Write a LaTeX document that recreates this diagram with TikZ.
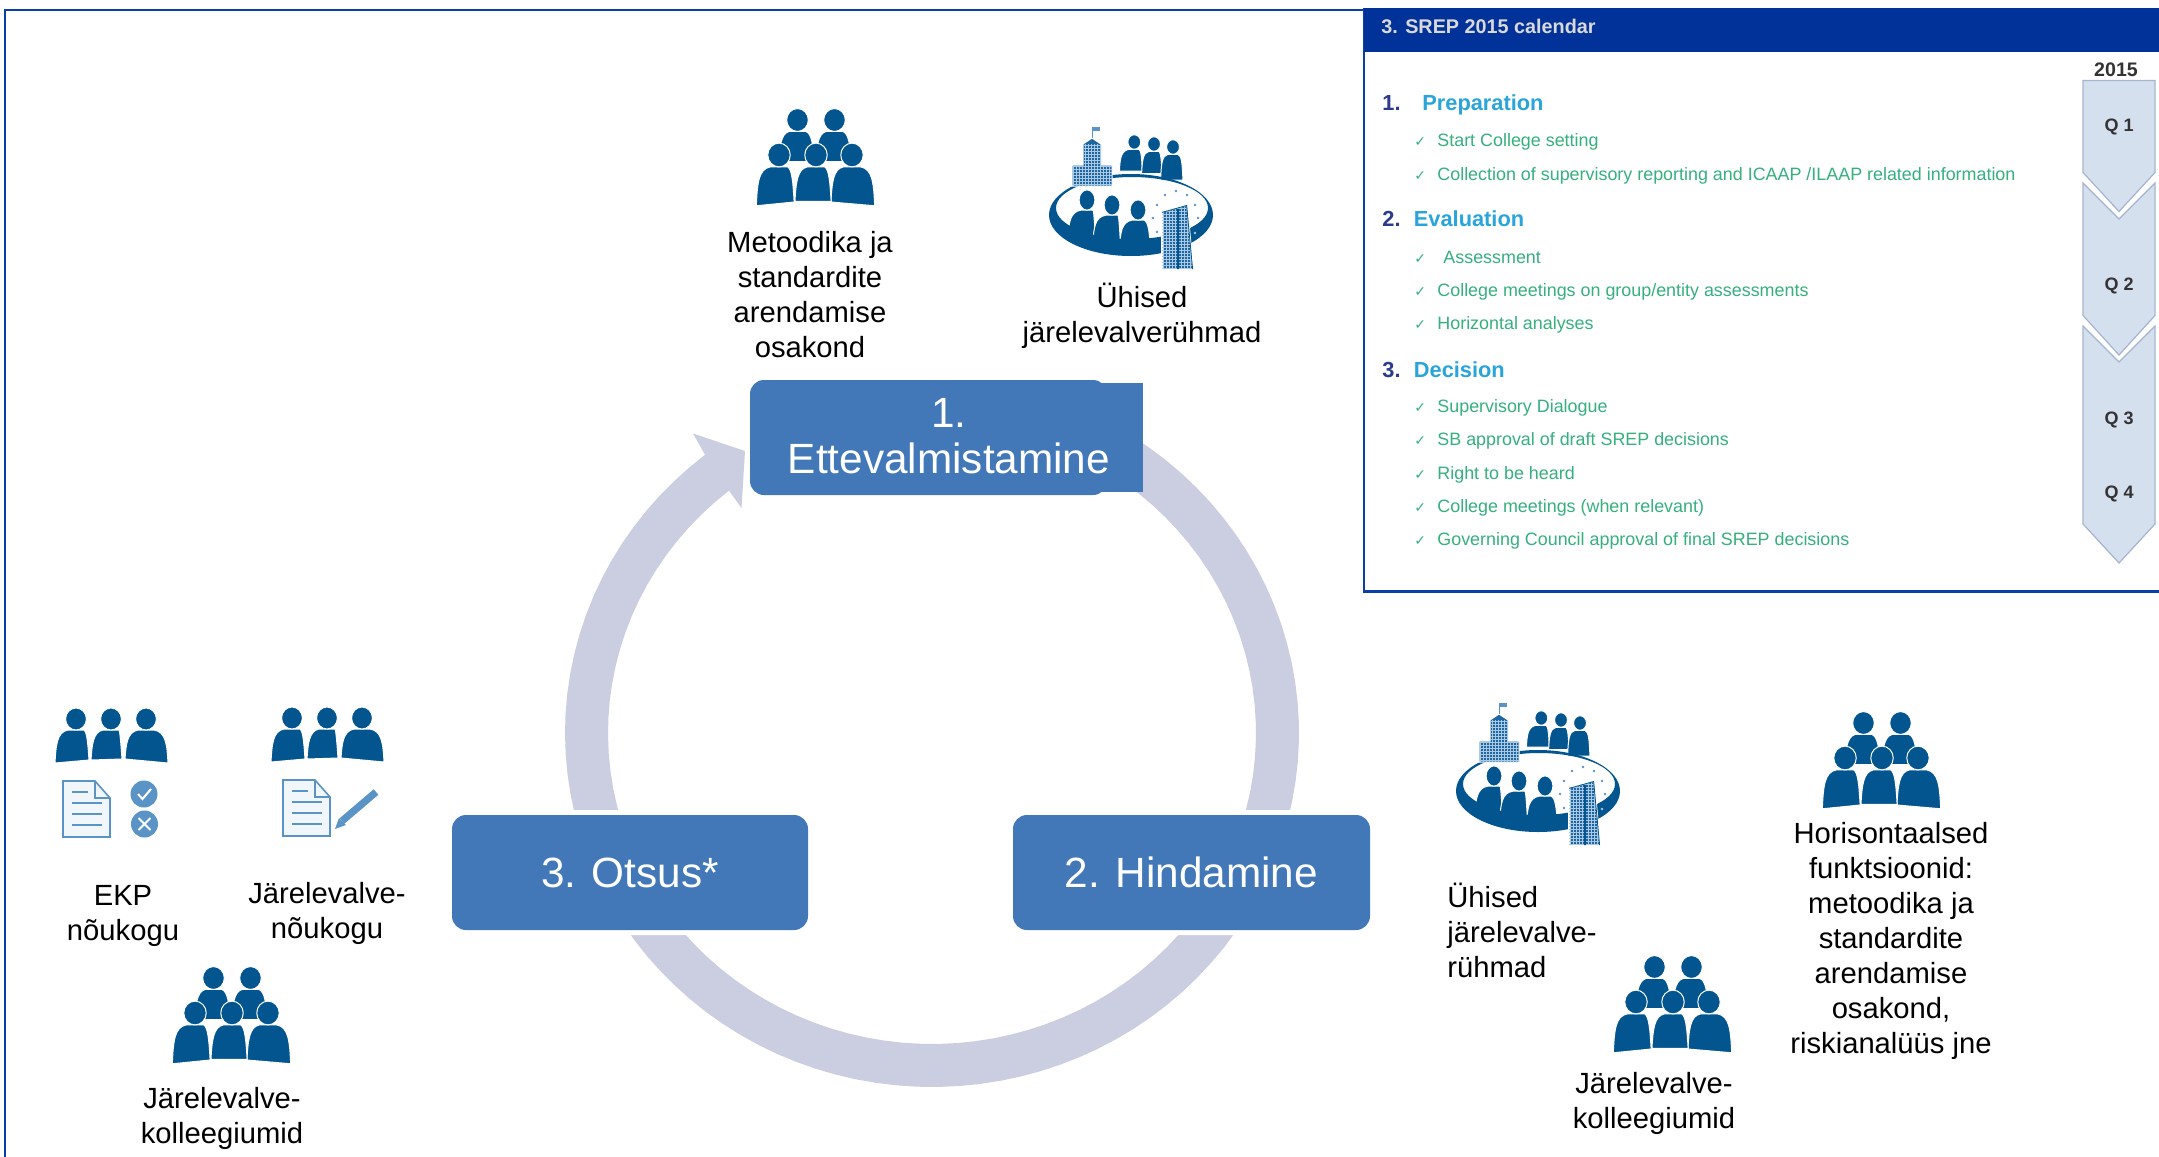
\documentclass[tikz,border=0pt]{standalone}
\usepackage{fontspec}
\setmainfont{Liberation Sans}
\newfontfamily\checkfont{DejaVu Sans}
\definecolor{iconblue}{HTML}{02558F}
\definecolor{towerblue}{HTML}{1F659F}
\definecolor{windowblue}{HTML}{A9C9E4}
\definecolor{docblue}{HTML}{5A93C5}
\definecolor{docfill}{HTML}{F1F6FB}
\definecolor{boxblue}{HTML}{4278B8}
\definecolor{ringgrey}{HTML}{CBCDE0}
\definecolor{framecol}{HTML}{0B3FA8}
\definecolor{headcol}{HTML}{003299}
\definecolor{itemgreen}{HTML}{35B07E}
\definecolor{phasecyan}{HTML}{2AA5DC}
\definecolor{numnavy}{HTML}{2B3A8C}
\definecolor{chevfill}{HTML}{D5E0EF}
\definecolor{chevedge}{HTML}{A5B5CE}
\newcommand{\calcheck}{\makebox[11.5pt][l]{\checkfont\fontsize{7}{8}\selectfont ✓}}
\tikzset{
	personfill/.style={fill=iconblue,draw=white,line width=0.5pt},
	stepbox/.style={rectangle,rounded corners=7pt,fill=boxblue,text=white,inner sep=0,minimum height=57.5pt,font=\fontsize{21.15}{23}\selectfont,preaction={draw=white,line width=5pt}},
	lbl/.style={align=center,inner sep=0,anchor=base,font=\fontsize{14.6}{17.5}\selectfont},
	calitem/.style={anchor=base west,inner sep=0,text=itemgreen,font=\fontsize{8.95}{10}\selectfont},
	calnum/.style={anchor=base west,inner sep=0,text=numnavy,font=\bfseries\fontsize{10.9}{13}\selectfont},
	calphase/.style={anchor=base west,inner sep=0,text=phasecyan,font=\bfseries\fontsize{10.9}{13}\selectfont},
	calq/.style={anchor=base,inner sep=0,text=black!80,font=\bfseries\fontsize{9}{11}\selectfont},
	chevron/.style={fill=chevfill,draw=chevedge,line width=0.6pt},
	windows/.style={draw=windowblue,line width=0.3pt},
	pics/person/.style n args={4}{code={
		\path[personfill] (#1,#2) .. controls (#1+1,26) and (#1+2,13) .. (-8,11) -- (8,11) .. controls (#3-2,13) and (#3-1,26) .. (#3,#4) -- cycle;
		\path[personfill] (0,0) ellipse [x radius=10.4,y radius=11];
	}},
	pics/team3/.style={code={
		\pic at (-35,0) {person={-21}{44}{13}{41}};
		\pic at (0,0) {person={-20}{41}{11}{40}};
		\pic at (35,0) {person={-21}{40}{22}{44}};
	}},
	pics/team5/.style={code={
		\pic[scale=1.04] at (-18.5,-35) {person={-18}{40}{16}{40}};
		\pic[scale=1.04] at (18.5,-35) {person={-18}{40}{16}{40}};
		\pic[scale=1.08] at (-37,0) {person={-21}{47}{14}{43.5}};
		\pic[scale=1.08] at (36,0) {person={-19.5}{43.5}{21}{47}};
		\pic[scale=1.08] at (0,0) {person={-19.5}{43}{14}{43}};
	}},
	pics/hq/.style={code={
		% people behind the table
		\pic[xscale=.62,yscale=.66] at (3.3,-73) {person={-24}{44}{13}{44}};
		\pic[xscale=.62,yscale=.66] at (23,-71) {person={-20}{45}{13}{45}};
		\pic[xscale=.62,yscale=.66] at (42,-68) {person={-20}{50}{16}{50}};
		% people at the table
		\pic[xscale=.76,yscale=.92] at (-44,-15) {person={-25}{42}{11}{42}};
		\pic[xscale=.76,yscale=.92] at (-19,-10) {person={-25}{40}{11}{40}};
		\pic[xscale=.76,yscale=.92] at (7,-5) {person={-24}{38}{16}{38}};
		\fill[iconblue,even odd rule] (0,0) ellipse [x radius=82,y radius=41] (1,-7) ellipse [x radius=76,y radius=31];
		% stars
		\foreach \sx/\sy in {26/-10,34/-20,45/-24,56/-20,64/-10,67/3,22/3,26/17}
			\fill[docblue] (\sx,\sy) circle (1.4);
		\fill[windowblue] (64,18) circle (1.4);
		% main building
		\fill[towerblue,draw=white,line width=0.5pt] (-59,-50) -- (-48,-50) -- (-48,-71) -- (-39,-77) -- (-30,-71) -- (-30,-50) -- (-19,-50) -- (-19,-29) -- (-59,-29) -- cycle;
		\begin{scope}
			\clip (-59,-50) -- (-48,-50) -- (-48,-71) -- (-30,-71) -- (-30,-50) -- (-19,-50) -- (-19,-29) -- (-59,-29) -- cycle;
			\foreach \wx in {-58,-55,...,-19}
				\draw[windows] (\wx,-78) -- (\wx,-28);
			\foreach \wy in {-76,-73,...,-28}
				\draw[windows] (-60,\wy) -- (-18,\wy);
		\end{scope}
		\draw[docblue,line width=0.4pt] (-39,-77) -- (-39,-88);
		\fill[docblue] (-39,-88) rectangle (-31,-84);
		% tower
		\fill[towerblue,draw=white,line width=0.8pt] (31,-3) -- (56,-10) -- (62,54) -- (31,54) -- cycle;
		\begin{scope}
			\clip (31,-3) -- (56,-10) -- (62,54) -- (31,54) -- cycle;
			\foreach \wx in {32,35,...,62}
				\draw[windows] (\wx,-12) -- (\wx,55);
			\foreach \wy in {-10,-7,...,54}
				\draw[windows] (30,\wy) -- (63,\wy);
			\draw[iconblue,line width=0.8pt] (47,-6) -- (47,55);
			\draw[iconblue,line width=0.8pt] (31,-3) -- (56,-10) -- (62,54);
		\end{scope}
	}},
	pics/docsheet/.style={code={
		\draw[docblue,fill=docfill,line width=0.8pt] (0,0) -- (32,0) -- (47,17) -- (47,56) -- (0,56) -- cycle;
		\draw[docblue,line width=0.6pt] (32,0) -- (32,17) -- (47,17);
		\draw[docblue,line width=1.2pt] (9,11) -- (25,11);
		\draw[docblue,line width=1.2pt] (9,22) -- (39,22);
		\draw[docblue,line width=1.2pt] (9,33) -- (39,33);
		\draw[docblue,line width=1.2pt] (9,44) -- (39,44);
	}}
}
\begin{document}
\begin{tikzpicture}[x=0.5pt,y=-0.5pt]
	\useasboundingbox (0,0) rectangle (2159,1157);
	\fill[white] (0,0) rectangle (2159,1157);
	\draw[framecol,line width=1.3pt] (5,1157) -- (5,10) -- (1365,10);

	% cycle
	\fill[ringgrey] (745,451) -- (693,433.5) -- plot[domain=128.2:417,samples=90] ({932+367*cos(\x)},{733-354*sin(\x)}) -- plot[domain=417:128.8,samples=90] ({932+324*cos(\x)},{733-311*sin(\x)}) -- (741.5,508) -- cycle;
	\node[stepbox,minimum width=178.5pt] (prep) at (928.5,437.5) {};
	\node[rectangle,fill=boxblue,inner sep=0,minimum width=26pt,minimum height=54.5pt] (preppatch) at (1117,437.5) {};
	\node[anchor=base,align=center,inner sep=0,text=white,font=\fontsize{21.15}{23}\selectfont] (preptext) at (949,473) {1.\\Ettevalmistamine};
	\node[stepbox,minimum width=178.5pt] (assess) at (1191.5,872.5) {2. Hindamine};
	\node[stepbox,minimum width=178pt] (decide) at (630,872.5) {3. Otsus*};

	% top group
	\pic at (816,155) {team5};
	\node[lbl] (method) at (810,357) {Metoodika ja\\standardite\\arendamise\\osakond};
	\pic at (1131,215) {hq};
	\node[lbl] (jst) at (1142,342) {Ühised\\järelevalverühmad};

	% left group
	\pic at (111,719) {team3};
	\pic at (63,781) {docsheet};
	\fill[docblue] (144,794) circle (13.5);
	\draw[white,line width=1pt] (138,794) -- (142.5,799) -- (151,789);
	\fill[docblue] (144.5,824) circle (13.5);
	\draw[white,line width=1pt] (138.5,818) -- (150.5,830) (150.5,818) -- (138.5,830);
	\node[lbl] (ekp) at (123,940) {EKP\\nõukogu};
	\pic at (327,718) {team3};
	\pic at (283,780) {docsheet};
	\draw[docblue,line width=3.6pt] (342,821) -- (376,792);
	\fill[docblue] (335,829) -- (339,818) -- (346,825) -- cycle;
	\node[lbl] (board) at (327,938) {Järelevalve-\\nõukogu};
	\pic at (232,1013) {team5};
	\node[lbl] (colleges) at (222,1143) {Järelevalve-\\kolleegiumid};

	% right group
	\pic at (1538,791) {hq};
	\node[lbl,align=left] (jst2) at (1522,977) {Ühised\\järelevalve-\\rühmad};
	\pic at (1882,758) {team5};
	\node[lbl] (horiz) at (1891,1053) {Horisontaalsed\\funktsioonid:\\metoodika ja\\standardite\\arendamise\\osakond,\\riskianalüüs jne};
	\pic at (1673,1002) {team5};
	\node[lbl] (colleges2) at (1654,1128) {Järelevalve-\\kolleegiumid};

	% calendar
	\fill[white] (1364,8) rectangle (2159,591.5);
	\draw[framecol,line width=1.3pt] (1364,8) -- (1364,591.5) -- (2159,591.5);
	\fill[headcol] (1364,8) rectangle (2159,52);
	\node[anchor=base west,inner sep=0,text=white!85!black,font=\bfseries\fontsize{9.9}{12}\selectfont] (caltitle) at (1381,33) {3. SREP 2015 calendar};
	\node[calnum] (n1) at (1382,110.7) {1.};
	\node[calphase] (p1) at (1422,110.7) {Preparation};
	\node[calitem] (i1) at (1414,146) {\calcheck Start College setting};
	\node[calitem] (i2) at (1414,180) {\calcheck Collection of supervisory reporting and ICAAP /ILAAP related information};
	\node[calnum] (n2) at (1382,226.7) {2.};
	\node[calphase] (p2) at (1413.5,226.7) {Evaluation};
	\node[calitem] (i3) at (1414,263) {\calcheck\hspace{3pt}Assessment};
	\node[calitem] (i4) at (1414,296) {\calcheck College meetings on group/entity assessments};
	\node[calitem] (i5) at (1414,329) {\calcheck Horizontal analyses};
	\node[calnum] (n3) at (1382,377) {3.};
	\node[calphase] (p3) at (1413.5,377) {Decision};
	\node[calitem] (i6) at (1414,412.7) {\calcheck Supervisory Dialogue};
	\node[calitem] (i7) at (1414,445.7) {\calcheck SB approval of draft SREP decisions};
	\node[calitem] (i8) at (1414,479) {\calcheck Right to be heard};
	\node[calitem] (i9) at (1414,512.7) {\calcheck College meetings (when relevant)};
	\node[calitem] (i10) at (1414,545.7) {\calcheck Governing Council approval of final SREP decisions};

	\fill[chevron] (2083,326) -- (2119,362) -- (2155,326) -- (2155,524) -- (2119,563) -- (2083,524) -- cycle;
	\fill[chevron] (2083,183) -- (2119,219) -- (2155,183) -- (2155,315.5) -- (2119,355) -- (2083,315.5) -- cycle;
	\fill[chevron] (2083,80.5) -- (2155,80.5) -- (2155,172.5) -- (2119,211.5) -- (2083,172.5) -- cycle;
	\node[anchor=base,inner sep=0,text=black!80,font=\bfseries\fontsize{9.8}{12}\selectfont] (year) at (2116,76) {2015};
	\node[calq] (q1) at (2119,131) {Q 1};
	\node[calq] (q2) at (2119,290) {Q 2};
	\node[calq] (q3) at (2119,424) {Q 3};
	\node[calq] (q4) at (2119,498) {Q 4};
\end{tikzpicture}
\end{document}
